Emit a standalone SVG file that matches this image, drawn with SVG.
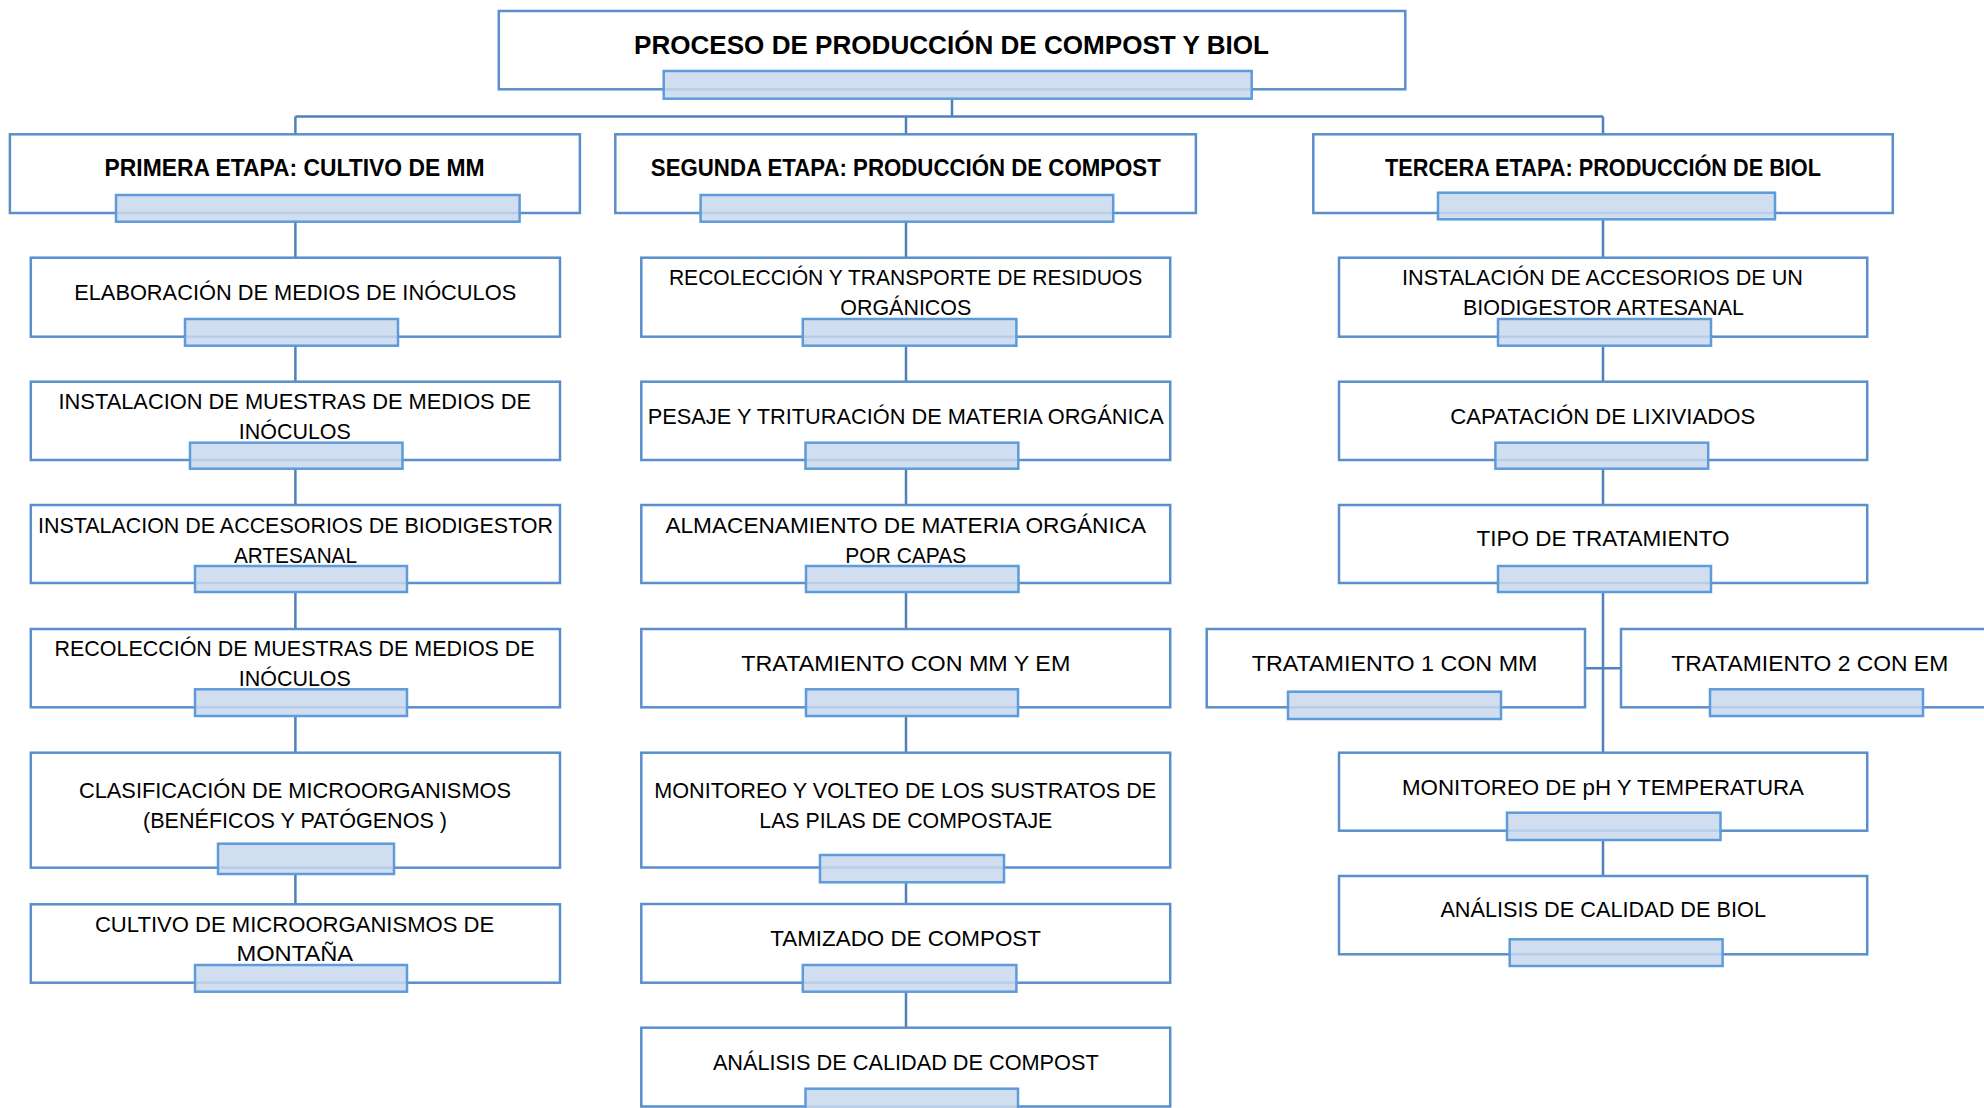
<svg xmlns="http://www.w3.org/2000/svg" width="1984" height="1108" viewBox="0 0 1984 1108">
<style>
.box{fill:#ffffff;stroke:#5A8FCB;stroke-width:2.5}
.bar{fill:#C9D8EC;fill-opacity:0.85;stroke:#5E9BDA;stroke-width:2.5}
.con{fill:none;stroke:#4F81BD;stroke-width:2.5}
text{font-family:"Liberation Sans",Arial,sans-serif;fill:#000000;text-anchor:middle}
.t{font-size:22px}
.h{font-size:23px;font-weight:bold}
.ttl{font-size:26px;font-weight:bold}
</style>
<rect width="1984" height="1108" fill="#ffffff"/>
<g id="connectors">
<path class="con" d="M952 98.7V116.4M295.4 116.4H1603M295.4 116.4V134.3M906 116.4V134.3M1603 116.4V134.3"/>
<path class="con" d="M295.4 221.7V257.7M295.4 345.7V381.7M295.4 468.7V505M295.4 592V629M295.4 716V752.7M295.4 874V904.3"/>
<path class="con" d="M906 221.7V257.7M906 345.7V381.7M906 468.7V505M906 592V629M906 716V752.7M906 882.3V904M906 991.7V1027.7"/>
<path class="con" d="M1603 219.3V257.7M1603 345.7V381.7M1603 468.7V505M1603 592V752.7M1585 668.3H1621M1603 840V876"/>
</g>
<g id="n-title">
<rect class="box" x="498.8" y="11" width="906.5" height="78.3"/>
<text class="ttl" x="951.5" y="54" textLength="635" lengthAdjust="spacingAndGlyphs">PROCESO DE PRODUCCIÓN DE COMPOST Y BIOL</text>
<rect class="bar" x="663.7" y="71" width="588" height="27.7"/>
</g>
<g id="n-primera">
<rect class="box" x="9.9" y="134.3" width="570" height="78.7"/>
<text class="h" x="294.6" y="175.7" textLength="380" lengthAdjust="spacingAndGlyphs">PRIMERA ETAPA: CULTIVO DE MM</text>
<rect class="bar" x="116" y="195" width="403.6" height="26.7"/>
</g>
<g id="n-segunda">
<rect class="box" x="615.3" y="134.3" width="580.6" height="78.7"/>
<text class="h" x="905.8" y="175.7" textLength="510" lengthAdjust="spacingAndGlyphs">SEGUNDA ETAPA: PRODUCCIÓN DE COMPOST</text>
<rect class="bar" x="700.6" y="195" width="412.6" height="26.7"/>
</g>
<g id="n-tercera">
<rect class="box" x="1313.3" y="134.3" width="579.5" height="78.7"/>
<text class="h" x="1603" y="175.7" textLength="436" lengthAdjust="spacingAndGlyphs">TERCERA ETAPA: PRODUCCIÓN DE BIOL</text>
<rect class="bar" x="1438" y="192.7" width="337" height="26.6"/>
</g>
<g id="n-c1-1">
<rect class="box" x="30.8" y="257.7" width="529.2" height="79"/>
<text class="t" x="295.2" y="300" textLength="442" lengthAdjust="spacingAndGlyphs">ELABORACIÓN DE MEDIOS DE INÓCULOS</text>
<rect class="bar" x="185" y="319" width="213" height="26.7"/>
</g>
<g id="n-c1-2">
<rect class="box" x="30.8" y="381.7" width="529.2" height="78.3"/>
<text class="t" x="294.8" y="409" textLength="472.5" lengthAdjust="spacingAndGlyphs">INSTALACION DE MUESTRAS DE MEDIOS DE</text>
<text class="t" x="294.8" y="439" textLength="112" lengthAdjust="spacingAndGlyphs">INÓCULOS</text>
<rect class="bar" x="190" y="442.7" width="212.5" height="26"/>
</g>
<g id="n-c1-3">
<rect class="box" x="30.8" y="505" width="529.2" height="78"/>
<text class="t" x="295.5" y="532.5" textLength="515" lengthAdjust="spacingAndGlyphs">INSTALACION DE ACCESORIOS DE BIODIGESTOR</text>
<text class="t" x="295.5" y="562.5" textLength="123" lengthAdjust="spacingAndGlyphs">ARTESANAL</text>
<rect class="bar" x="195" y="566" width="212" height="26"/>
</g>
<g id="n-c1-4">
<rect class="box" x="30.8" y="629" width="529.2" height="78.3"/>
<text class="t" x="294.6" y="656" textLength="480" lengthAdjust="spacingAndGlyphs">RECOLECCIÓN DE MUESTRAS DE MEDIOS DE</text>
<text class="t" x="294.8" y="686" textLength="112" lengthAdjust="spacingAndGlyphs">INÓCULOS</text>
<rect class="bar" x="195" y="689.3" width="212" height="26.7"/>
</g>
<g id="n-c1-5">
<rect class="box" x="30.8" y="752.7" width="529.2" height="115"/>
<text class="t" x="295" y="798" textLength="432" lengthAdjust="spacingAndGlyphs">CLASIFICACIÓN DE MICROORGANISMOS</text>
<text class="t" x="295" y="828" textLength="304" lengthAdjust="spacingAndGlyphs">(BENÉFICOS Y PATÓGENOS )</text>
<rect class="bar" x="218" y="843.7" width="176" height="30.3"/>
</g>
<g id="n-c1-6">
<rect class="box" x="30.8" y="904.3" width="529.2" height="78.4"/>
<text class="t" x="294.6" y="932" textLength="399.4" lengthAdjust="spacingAndGlyphs">CULTIVO DE MICROORGANISMOS DE</text>
<text class="t" x="294.8" y="961" textLength="116.7" lengthAdjust="spacingAndGlyphs">MONTAÑA</text>
<rect class="bar" x="195" y="965" width="212" height="26.7"/>
</g>
<g id="n-c2-1">
<rect class="box" x="641.3" y="257.7" width="528.9" height="79"/>
<text class="t" x="905.6" y="284.7" textLength="473.4" lengthAdjust="spacingAndGlyphs">RECOLECCIÓN Y TRANSPORTE DE RESIDUOS</text>
<text class="t" x="905.8" y="314.7" textLength="131" lengthAdjust="spacingAndGlyphs">ORGÁNICOS</text>
<rect class="bar" x="802.8" y="319" width="213.6" height="26.7"/>
</g>
<g id="n-c2-2">
<rect class="box" x="641.3" y="381.7" width="528.9" height="78.3"/>
<text class="t" x="905.8" y="424" textLength="516" lengthAdjust="spacingAndGlyphs">PESAJE Y TRITURACIÓN DE MATERIA ORGÁNICA</text>
<rect class="bar" x="805.5" y="442.7" width="212.8" height="26"/>
</g>
<g id="n-c2-3">
<rect class="box" x="641.3" y="505" width="528.9" height="78"/>
<text class="t" x="905.8" y="532.5" textLength="480.7" lengthAdjust="spacingAndGlyphs">ALMACENAMIENTO DE MATERIA ORGÁNICA</text>
<text class="t" x="905.8" y="562.5" textLength="121" lengthAdjust="spacingAndGlyphs">POR CAPAS</text>
<rect class="bar" x="806" y="566" width="212.5" height="26"/>
</g>
<g id="n-c2-4">
<rect class="box" x="641.3" y="629" width="528.9" height="78.3"/>
<text class="t" x="905.8" y="671" textLength="329" lengthAdjust="spacingAndGlyphs">TRATAMIENTO CON MM Y EM</text>
<rect class="bar" x="806" y="689.3" width="212" height="26.7"/>
</g>
<g id="n-c2-5">
<rect class="box" x="641.3" y="752.7" width="528.9" height="114.8"/>
<text class="t" x="905.3" y="798" textLength="502" lengthAdjust="spacingAndGlyphs">MONITOREO Y VOLTEO DE LOS SUSTRATOS DE</text>
<text class="t" x="905.8" y="828" textLength="293" lengthAdjust="spacingAndGlyphs">LAS PILAS DE COMPOSTAJE</text>
<rect class="bar" x="820" y="855" width="184" height="27.3"/>
</g>
<g id="n-c2-6">
<rect class="box" x="641.3" y="904" width="528.9" height="78.7"/>
<text class="t" x="905.6" y="946" textLength="270.6" lengthAdjust="spacingAndGlyphs">TAMIZADO DE COMPOST</text>
<rect class="bar" x="802.8" y="965" width="213.6" height="26.7"/>
</g>
<g id="n-c2-7">
<rect class="box" x="641.3" y="1027.7" width="528.9" height="78.8"/>
<text class="t" x="905.8" y="1069.7" textLength="385.8" lengthAdjust="spacingAndGlyphs">ANÁLISIS DE CALIDAD DE COMPOST</text>
<rect class="bar" x="805.5" y="1088.7" width="212.5" height="27.3"/>
</g>
<g id="n-c3-1">
<rect class="box" x="1339" y="257.7" width="528.2" height="79"/>
<text class="t" x="1602.5" y="284.7" textLength="401" lengthAdjust="spacingAndGlyphs">INSTALACIÓN DE ACCESORIOS DE UN</text>
<text class="t" x="1603.5" y="314.7" textLength="281" lengthAdjust="spacingAndGlyphs">BIODIGESTOR ARTESANAL</text>
<rect class="bar" x="1498" y="319" width="213" height="26.7"/>
</g>
<g id="n-c3-2">
<rect class="box" x="1339" y="381.7" width="528.2" height="78.3"/>
<text class="t" x="1602.7" y="424" textLength="305" lengthAdjust="spacingAndGlyphs">CAPATACIÓN DE LIXIVIADOS</text>
<rect class="bar" x="1495.4" y="442.7" width="212.8" height="26"/>
</g>
<g id="n-c3-3">
<rect class="box" x="1339" y="505" width="528.2" height="78"/>
<text class="t" x="1603" y="546" textLength="253" lengthAdjust="spacingAndGlyphs">TIPO DE TRATAMIENTO</text>
<rect class="bar" x="1498" y="566" width="213" height="26"/>
</g>
<g id="n-trat1">
<rect class="box" x="1206.7" y="629" width="378.3" height="78.3"/>
<text class="t" x="1394.6" y="671" textLength="285.6" lengthAdjust="spacingAndGlyphs">TRATAMIENTO 1 CON MM</text>
<rect class="bar" x="1288" y="691.7" width="213" height="27.3"/>
</g>
<g id="n-trat2">
<rect class="box" x="1621" y="629" width="380" height="78.3"/>
<text class="t" x="1809.7" y="671" textLength="277" lengthAdjust="spacingAndGlyphs">TRATAMIENTO 2 CON EM</text>
<rect class="bar" x="1710" y="689.3" width="213" height="26.7"/>
</g>
<g id="n-c3-4">
<rect class="box" x="1339" y="752.7" width="528.2" height="78"/>
<text class="t" x="1603" y="795.3" textLength="402" lengthAdjust="spacingAndGlyphs">MONITOREO DE pH Y TEMPERATURA</text>
<rect class="bar" x="1507" y="812.7" width="213.5" height="27.3"/>
</g>
<g id="n-c3-5">
<rect class="box" x="1339" y="876" width="528.2" height="78.3"/>
<text class="t" x="1603.2" y="917.3" textLength="325.6" lengthAdjust="spacingAndGlyphs">ANÁLISIS DE CALIDAD DE BIOL</text>
<rect class="bar" x="1509.7" y="939.3" width="212.9" height="26.7"/>
</g>
</svg>
